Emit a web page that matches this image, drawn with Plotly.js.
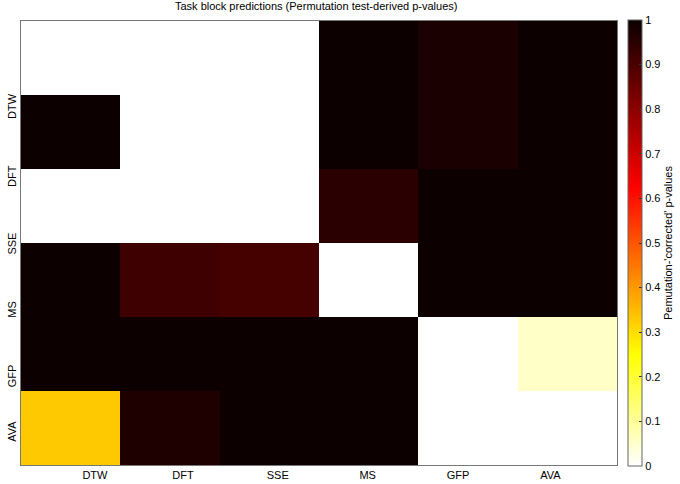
<!DOCTYPE html>
<html>
<head>
<meta charset="utf-8">
<script src="https://cdn.plot.ly/plotly-3.0.1.min.js"></script>
<style>html,body{margin:0;padding:0;background:#fff;}#chart{width:680px;height:484px;}</style>
</head>
<body>
<div id="chart"></div>
<script>
// Data (rows top to bottom, columns left to right)
const colIndex = [1, 2, 3, 4, 5, 6];
const rowIndex = [1, 2, 3, 4, 5, 6];
const xTickLabels = ['DTW', 'DFT', 'SSE', 'MS', 'GFP', 'AVA'];
const yTickLabels = ['DTW', 'DFT', 'SSE', 'MS', 'GFP', 'AVA'];
const row1 = [0, 0, 0, 0.995, 0.975, 0.995];
const row2 = [0.995, 0, 0, 0.995, 0.975, 0.995];
const row3 = [0, 0, 0, 0.95, 0.995, 0.995];
const row4 = [0.995, 0.92, 0.91, 0, 0.995, 0.995];
const row5 = [0.995, 0.995, 0.995, 0.995, 0, 0.055];
const row6 = [0.33, 0.97, 0.995, 0.995, 0, 0];
const pValues = [row1, row2, row3, row4, row5, row6];
const cbTicks = [0, 0.1, 0.2, 0.3, 0.4, 0.5, 0.6, 0.7, 0.8, 0.9, 1];

// tick label positions (layout, matching the original figure)
const xTickPos = [1.244, 2.13, 3.085, 3.99, 4.90, 5.83];
const yTickPos = [1.676, 2.62, 3.53, 4.42, 5.32, 6.07];

// flipped MATLAB "hot" colormap
const hotFlipped = [
  [0, 'rgb(255,255,255)'],
  [0.25, 'rgb(255,255,0)'],
  [0.625, 'rgb(255,0,0)'],
  [1, 'rgb(10,0,0)']
];

const trace = {
  type: 'heatmap',
  x: colIndex,
  y: rowIndex,
  z: pValues,
  zmin: 0,
  zmax: 1,
  colorscale: hotFlipped,
  showscale: true,
  colorbar: {
    x: 1.0185,
    xanchor: 'left',
    y: 0.5,
    yanchor: 'middle',
    len: 446,
    lenmode: 'pixels',
    thickness: 14,
    thicknessmode: 'pixels',
    outlinewidth: 1,
    outlinecolor: '#666',
    tickvals: cbTicks,
    ticktext: cbTicks.map(String),
    ticks: 'inside',
    ticklen: 3,
    tickcolor: '#333',
    tickfont: {family: 'Liberation Sans, Arial, sans-serif', size: 11, color: '#000'},
    xpad: 0,
    ypad: 0,
    title: {text: "Pemutation-'corrected' p-values", side: 'right',
            font: {family: 'Liberation Sans, Arial, sans-serif', size: 11, color: '#000'}}
  },
  hoverinfo: 'skip'
};

const layout = {
  width: 680,
  height: 484,
  paper_bgcolor: '#fff',
  plot_bgcolor: '#fff',
  margin: {l: 21, r: 63, t: 21, b: 19, pad: 0, autoexpand: false},
  title: {
    text: 'Task block predictions (Permutation test-derived p-values)',
    x: 0.465, xanchor: 'center', y: 0.995, yanchor: 'top',
    font: {family: 'Liberation Sans, Arial, sans-serif', size: 11, color: '#000'}
  },
  xaxis: {
    range: [0.5, 6.5],
    tickvals: xTickPos,
    ticktext: xTickLabels,
    ticks: '',
    showgrid: false,
    zeroline: false,
    showline: true,
    mirror: true,
    linecolor: '#777',
    linewidth: 1,
    automargin: false,
    tickfont: {family: 'Liberation Sans, Arial, sans-serif', size: 11, color: '#000'}
  },
  yaxis: {
    range: [6.5, 0.5],
    tickvals: yTickPos,
    ticktext: yTickLabels,
    tickangle: -90,
    ticks: '',
    showgrid: false,
    zeroline: false,
    showline: true,
    mirror: true,
    linecolor: '#777',
    linewidth: 1,
    automargin: false,
    tickfont: {family: 'Liberation Sans, Arial, sans-serif', size: 11, color: '#000'}
  }
};

Plotly.newPlot('chart', [trace], layout, {displayModeBar: false, staticPlot: true});
</script>
</body>
</html>
